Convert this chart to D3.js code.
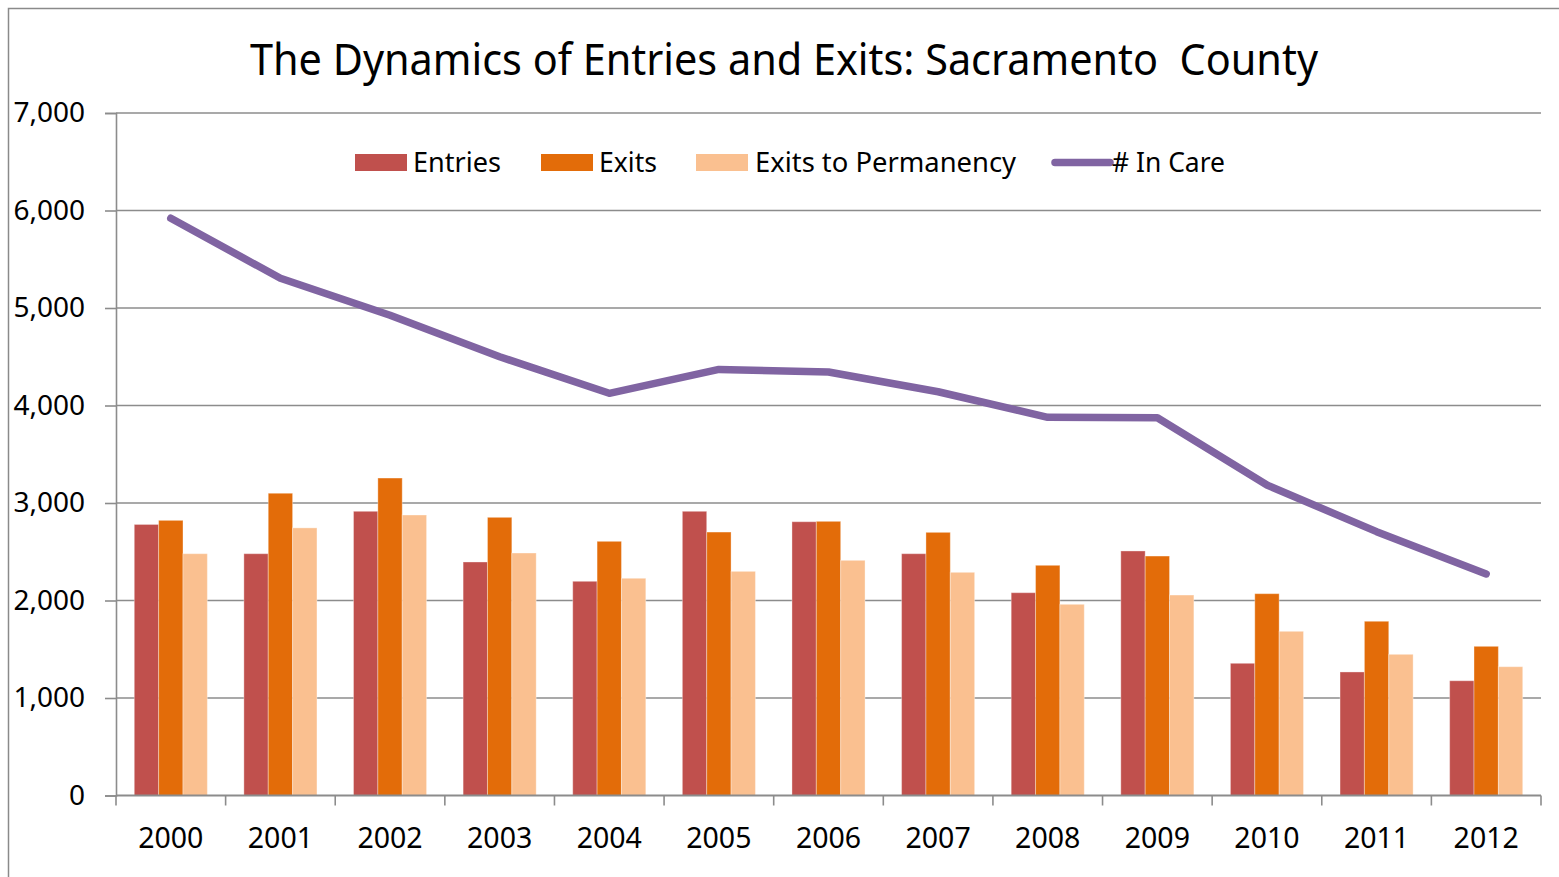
<!DOCTYPE html>
<html>
<head>
<meta charset="utf-8">
<script src="https://cdn.jsdelivr.net/npm/d3@7"></script>
<style>
  html, body { margin: 0; padding: 0; background: #fff; }
  svg { display: block; }
  text { font-family: "Noto Sans", "Open Sans", sans-serif; fill: #000; }
</style>
</head>
<body>
<svg id="chart" width="1559" height="877"></svg>
<script>
const years = ["2000","2001","2002","2003","2004","2005","2006","2007","2008","2009","2010","2011","2012"];
const entries = [2780, 2480, 2915, 2395, 2197, 2915, 2808, 2480, 2080, 2508, 1356, 1267, 1177];
const exits = [2822, 3100, 3256, 2853, 2607, 2702, 2812, 2699, 2361, 2456, 2070, 1787, 1530];
const exitsPerm = [2480, 2745, 2877, 2487, 2228, 2299, 2412, 2289, 1961, 2056, 1684, 1448, 1321];
const inCare = [5920, 5305, 4925, 4500, 4125, 4370, 4343, 4141, 3879, 3875, 3184, 2706, 2272];
const yTicks = [0, 1000, 2000, 3000, 4000, 5000, 6000, 7000];
const barSeries = ["Entries", "Exits", "Exits to Permanency"];
const lineSeries = "# In Care";
const title = "The Dynamics of Entries and Exits: Sacramento\u00a0 County";

const colors = { "Entries": "#C0504D", "Exits": "#E36C09", "Exits to Permanency": "#FAC090", "# In Care": "#8064A2" };
const seriesData = { "Entries": entries, "Exits": exits, "Exits to Permanency": exitsPerm };

const svg = d3.select("#chart");
const L = 116, R = 1541, T = 113, B = 795.5;

// outer border
svg.append("rect").attr("x", 8.5).attr("y", 8.5).attr("width", 1600).attr("height", 1000)
  .attr("fill", "none").attr("stroke", "#8a8a8a").attr("stroke-width", 1.5);

const x0 = d3.scaleBand().domain(years).range([L, R]).paddingInner(0).paddingOuter(0);
const bw = x0.bandwidth() / 4.5;
const x1 = d3.scaleBand().domain(barSeries).range([bw * 0.75, bw * 3.75]).padding(0);
const y = d3.scaleLinear().domain([0, 7000]).range([B, T]);

// gridlines
svg.append("g").selectAll("line").data(yTicks.filter(d => d > 0)).join("line")
  .attr("x1", L).attr("x2", R).attr("y1", d => y(d)).attr("y2", d => y(d))
  .attr("stroke", "#8c8c8c").attr("stroke-width", 1.6);

// bars
const groups = svg.append("g").selectAll("g").data(years).join("g")
  .attr("transform", d => `translate(${x0(d)},0)`);
groups.selectAll("rect").data((d, i) => barSeries.map(s => ({ s, v: seriesData[s][i] }))).join("rect")
  .attr("x", d => x1(d.s)).attr("width", x1.bandwidth())
  .attr("y", d => y(d.v)).attr("height", d => B - y(d.v))
  .attr("fill", d => colors[d.s])
  .attr("stroke", "rgba(255,255,255,0.35)").attr("stroke-width", 1);

// y axis
const yAxis = d3.axisLeft(y).tickValues(yTicks).tickFormat(d3.format(",")).tickSize(11).tickPadding(20);
const gy = svg.append("g").attr("transform", `translate(${L},0)`).call(yAxis);
gy.select(".domain").attr("stroke", "#8c8c8c").attr("stroke-width", 1.6);
gy.selectAll(".tick line").attr("stroke", "#8c8c8c").attr("stroke-width", 1.6);
gy.selectAll(".tick text").attr("font-size", 28).attr("font-family", "Noto Sans").attr("fill", "#000");

// x axis
const gx = svg.append("g").attr("transform", `translate(0,${B})`);
gx.append("line").attr("x1", L).attr("x2", R).attr("y1", 0).attr("y2", 0)
  .attr("stroke", "#8c8c8c").attr("stroke-width", 1.8);
const bounds = years.map(d => x0(d)).concat([R]);
gx.selectAll("line.tk").data(bounds).join("line").attr("class", "tk")
  .attr("x1", d => d).attr("x2", d => d).attr("y1", 0).attr("y2", 10)
  .attr("stroke", "#8c8c8c").attr("stroke-width", 1.6);
gx.selectAll("text").data(years).join("text")
  .attr("x", d => x0(d) + x0.bandwidth() / 2).attr("y", 52)
  .attr("text-anchor", "middle").attr("font-size", 28.5)
  .text(d => d);

// line
const line = d3.line().x((d, i) => x0(years[i]) + x0.bandwidth() / 2).y(d => y(d));
svg.append("path").datum(inCare).attr("d", line)
  .attr("fill", "none").attr("stroke", colors[lineSeries]).attr("stroke-width", 7.5)
  .attr("stroke-linecap", "round").attr("stroke-linejoin", "round");

// title
svg.append("text").attr("x", 250).attr("y", 74.5).attr("font-size", 43)
  .attr("textLength", 1068).attr("lengthAdjust", "spacingAndGlyphs").text(title);

// legend
const legend = [
  { name: "Entries", sx: 355, sw: 52, tx: 413, tw: 88, type: "rect" },
  { name: "Exits", sx: 541, sw: 52, tx: 599, tw: 58, type: "rect" },
  { name: "Exits to Permanency", sx: 696, sw: 52, tx: 755, tw: 261, type: "rect" },
  { name: "# In Care", sx: 1055, sw: 55, tx: 1112, tw: 113, type: "line" }
];
const lg = svg.append("g");
legend.forEach(it => {
  if (it.type === "rect") {
    lg.append("rect").attr("x", it.sx).attr("y", 154).attr("width", it.sw).attr("height", 17)
      .attr("fill", colors[it.name]);
  } else {
    lg.append("line").attr("x1", it.sx).attr("x2", it.sx + it.sw).attr("y1", 162.5).attr("y2", 162.5)
      .attr("stroke", colors[it.name]).attr("stroke-width", 7.5).attr("stroke-linecap", "round");
  }
  lg.append("text").attr("x", it.tx).attr("y", 172).attr("font-size", 27.5)
    .attr("textLength", it.tw).attr("lengthAdjust", "spacingAndGlyphs").text(it.name);
});
</script>
</body>
</html>
